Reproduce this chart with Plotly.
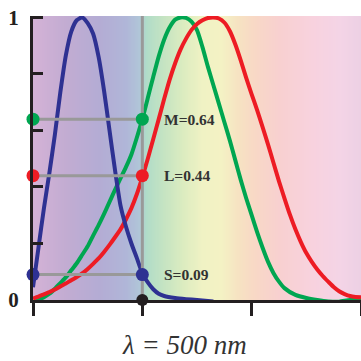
import numpy as np
import plotly.graph_objects as go

# ---------------- data ----------------
wl_s = [400, 405, 410, 415, 420, 425, 430, 435, 440, 445, 450, 455, 460, 465, 470, 475,
        480, 485, 490, 495, 500, 505, 510, 515, 520, 530, 540, 550, 565]
s_vals = [0.045, 0.185, 0.325, 0.45, 0.585, 0.735, 0.865, 0.95, 0.99, 1.0, 0.98, 0.942,
          0.86, 0.74, 0.60, 0.46, 0.335, 0.26, 0.20, 0.148, 0.095, 0.062, 0.038, 0.022,
          0.014, 0.007, 0.003, 0.0, -0.005]

wl_m = [400, 405, 410, 415, 420, 425, 430, 435, 440, 445, 450, 455, 460, 465, 470, 475,
        480, 485, 490, 495, 500, 505, 510, 515, 520, 525, 530, 535, 540, 545, 550, 555,
        560, 565, 570, 575, 580, 585, 590, 595, 600, 605, 610, 615, 620, 625, 630, 640,
        650, 660, 670, 680, 690, 700]
m_vals = [-0.008, 0.0, 0.01, 0.022, 0.04, 0.06, 0.08, 0.105, 0.13, 0.16, 0.19, 0.228,
          0.265, 0.305, 0.347, 0.39, 0.43, 0.47, 0.515, 0.575, 0.64, 0.715, 0.79, 0.862,
          0.922, 0.965, 0.992, 1.0, 0.998, 0.985, 0.955, 0.895, 0.825, 0.76, 0.695, 0.63,
          0.565, 0.495, 0.425, 0.36, 0.30, 0.24, 0.185, 0.135, 0.095, 0.065, 0.042, 0.018,
          0.007, 0.0, -0.005, -0.006, 0.0, 0.0]

wl_l = [400, 405, 410, 415, 420, 425, 430, 435, 440, 445, 450, 455, 460, 465, 470, 475,
        480, 485, 490, 495, 500, 505, 510, 515, 520, 525, 530, 535, 540, 545, 550, 555,
        560, 565, 570, 575, 580, 585, 590, 595, 600, 605, 610, 615, 620, 625, 630, 635,
        640, 645, 650, 655, 660, 665, 670, 675, 680, 685, 690, 695, 700]
l_vals = [0.005, 0.012, 0.02, 0.028, 0.037, 0.048, 0.058, 0.07, 0.081, 0.094, 0.11,
          0.128, 0.147, 0.17, 0.195, 0.222, 0.25, 0.285, 0.325, 0.375, 0.435, 0.50, 0.57,
          0.64, 0.712, 0.78, 0.838, 0.887, 0.925, 0.956, 0.977, 0.99, 0.998, 1.0, 0.996,
          0.982, 0.952, 0.905, 0.848, 0.786, 0.728, 0.672, 0.612, 0.55, 0.485, 0.42, 0.36,
          0.302, 0.25, 0.205, 0.166, 0.135, 0.108, 0.085, 0.065, 0.046, 0.031, 0.021,
          0.014, 0.011, 0.01]

probe_wl = 500
cone_names = ["M", "L", "S"]
cone_at_probe = [0.64, 0.44, 0.09]
y_tick_vals = [0, 0.2, 0.4, 0.6, 0.8, 1.0]
y_tick_text = ["0", "", "", "", "", "1"]
x_tick_vals = [400, 500, 600, 700]
title_text = "λ = 500 nm"

# ---------------- style ----------------
C_S = "#2e3192"
C_M = "#00a651"
C_L = "#ed1c24"
GRAY = "#999999"
cone_colors = {"M": C_M, "L": C_L, "S": C_S}

spectrum_stops = [
    (400, "#d4b2d6"), (430, "#c2acd2"), (460, "#b4acd4"), (485, "#b0b6d8"),
    (497, "#b0c6d8"), (503, "#b0dcc8"), (520, "#c6e4c2"), (537, "#dcecc0"),
    (555, "#f0f2c4"), (572, "#f4f2c4"), (588, "#f6e2c2"), (603, "#f8d8c6"),
    (625, "#f8d0d0"), (655, "#f8d2de"), (680, "#f4d4e6"), (700, "#ecd0e4"),
]
lo, hi = spectrum_stops[0][0], spectrum_stops[-1][0]
cscale = [[(w - lo) / (hi - lo), c] for w, c in spectrum_stops]

fig = go.Figure()

bg_x = np.arange(400, 701, 2)
fig.add_trace(go.Heatmap(
    x=bg_x, y=[-0.05, 1.05], z=[bg_x, bg_x], colorscale=cscale,
    zmin=lo, zmax=hi, showscale=False, zsmooth="best", hoverinfo="skip"))

for wl, vals, col in [(wl_m, m_vals, C_M), (wl_l, l_vals, C_L), (wl_s, s_vals, C_S)]:
    fig.add_trace(go.Scatter(
        x=wl, y=vals, mode="lines",
        line=dict(color=col, width=4, shape="spline", smoothing=0.6),
        showlegend=False, hoverinfo="skip"))

# vertical probe line
fig.add_trace(go.Scatter(
    x=[probe_wl, probe_wl], y=[0, 1.01], mode="lines",
    line=dict(color=GRAY, width=3), showlegend=False, hoverinfo="skip"))

for name, v in zip(cone_names, cone_at_probe):
    fig.add_trace(go.Scatter(
        x=[400, probe_wl], y=[v, v], mode="lines+markers",
        line=dict(color=GRAY, width=3),
        marker=dict(color=cone_colors[name], size=13),
        cliponaxis=False, showlegend=False, hoverinfo="skip"))
    fig.add_annotation(
        x=probe_wl + 18, y=v, text=f"<b>{name}={v:.2f}</b>", showarrow=False,
        xanchor="left", yanchor="middle",
        font=dict(family="Liberation Serif", size=15.5, color="#333333"))

fig.add_trace(go.Scatter(
    x=[probe_wl], y=[0], mode="markers",
    marker=dict(color="#231f20", size=12), cliponaxis=False,
    showlegend=False, hoverinfo="skip"))

fig.add_annotation(
    xref="paper", yref="paper", x=0.463, y=-0.16, text=f"<i>{title_text}</i>",
    showarrow=False, xanchor="center", yanchor="middle",
    font=dict(family="Liberation Serif", size=27, color="#333333"))

fig.update_xaxes(
    range=[400, 700], tickvals=x_tick_vals, showticklabels=False,
    ticks="outside", ticklen=13, tickwidth=3, tickcolor="#231f20",
    showline=True, linecolor="#231f20", linewidth=3, showgrid=False, zeroline=False)
fig.update_yaxes(
    range=[0, 1.005], tickvals=y_tick_vals, ticktext=y_tick_text,
    ticks="inside", ticklen=10, tickwidth=3, tickcolor="#231f20",
    ticklabelstandoff=7,
    tickfont=dict(family="Liberation Serif", size=21, color="#231f20", weight="bold"),
    showline=True, linecolor="#231f20", linewidth=3, showgrid=False, zeroline=False)

fig.update_layout(
    width=361, height=361, margin=dict(l=33, r=0, t=16, b=61),
    paper_bgcolor="white", plot_bgcolor="white")

fig.write_html("out.html")
